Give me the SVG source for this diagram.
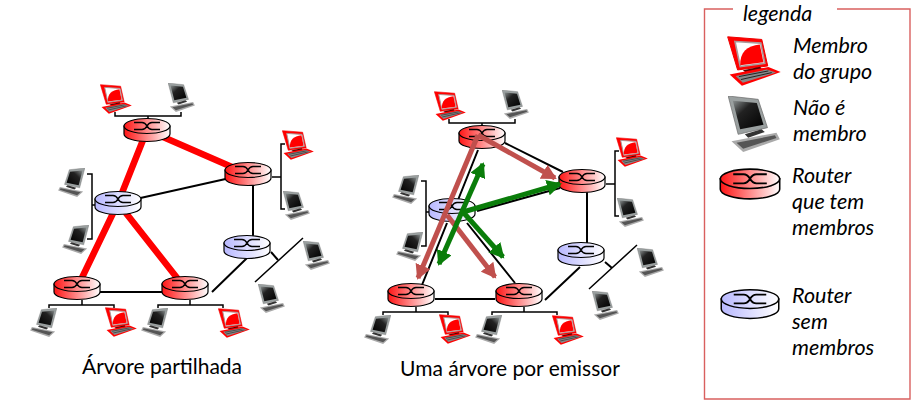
<svg xmlns="http://www.w3.org/2000/svg" width="918" height="405" viewBox="0 0 918 405">
<style>
text{font-family:Lato,"Open Sans","Liberation Sans",sans-serif;fill:#000}
.cap{font-size:21px}
.leg{font-size:21.5px;font-style:italic}
.link{stroke:#000;stroke-width:2;fill:none}
.bus{stroke:#000;stroke-width:1.5;fill:none}
.tree{stroke:#f00;stroke-width:6.5;fill:none}
.pink{stroke:#c0504d;stroke-width:5;fill:none}
.green{stroke:#0a7d0a;stroke-width:5;fill:none}
</style>
<defs>
<linearGradient id="gr"><stop offset="0" stop-color="#ff1515"/><stop offset=".25" stop-color="#ff5050"/><stop offset="1" stop-color="#fff"/></linearGradient>
<linearGradient id="gb"><stop offset="0" stop-color="#b8b8ff"/><stop offset="1" stop-color="#fff"/></linearGradient>
<linearGradient id="gs" x1="0" y1="0" x2="1" y2="1"><stop offset="0" stop-color="#8a9090"/><stop offset=".35" stop-color="#222"/><stop offset="1" stop-color="#000"/></linearGradient>
<marker id="ap" markerUnits="userSpaceOnUse" markerWidth="16" markerHeight="16" refX="13" refY="8" orient="auto-start-reverse"><path d="M0,0 L15,8 L0,16 Z" fill="#c0504d"/></marker>
<marker id="ag" markerUnits="userSpaceOnUse" markerWidth="16" markerHeight="16" refX="13" refY="8" orient="auto-start-reverse"><path d="M0,0 L15,8 L0,16 Z" fill="#0a7d0a"/></marker>
<symbol id="rr" viewBox="-24 -13 48 26" overflow="visible">
<path d="M-23,-4 V4 A23,7.5 0 0 0 23,4 V-4 Z" fill="url(#gr)" stroke="#000" stroke-width="1.2"/>
<ellipse cx="0" cy="-4" rx="23" ry="7.5" fill="url(#gr)" stroke="#000" stroke-width="1.2"/>
<path d="M-13,-7.5 H-5 Q-2,-7.5 0,-4 Q2,-.5 5,-.5 H13 M-13,-.5 H-5 Q-2,-.5 0,-4 Q2,-7.5 5,-7.5 H13" fill="none" stroke="#000" stroke-width="1.5"/>
</symbol>
<symbol id="br" viewBox="-24 -13 48 26" overflow="visible">
<path d="M-23,-4 V4 A23,7.5 0 0 0 23,4 V-4 Z" fill="url(#gb)" stroke="#000" stroke-width="1.2"/>
<ellipse cx="0" cy="-4" rx="23" ry="7.5" fill="url(#gb)" stroke="#000" stroke-width="1.2"/>
<path d="M-13,-7.5 H-5 Q-2,-7.5 0,-4 Q2,-.5 5,-.5 H13 M-13,-.5 H-5 Q-2,-.5 0,-4 Q2,-7.5 5,-7.5 H13" fill="none" stroke="#000" stroke-width="1.5"/>
</symbol>
<symbol id="rc" viewBox="0 0 163 150">
<path d="M2,2 L105,10 L123,90 L32,102 Z" fill="#f00" stroke="#e00" stroke-width="3"/>
<path d="M24,16 L102,21 L114,82 L40,92 Z" fill="#fff" stroke="#a99" stroke-width="5"/>
<path d="M40,88 C38,50 60,28 99,25 L110,79 Z" fill="#f00"/>
<path d="M48,103 L100,92 L106,100 L60,113 Z" fill="#500"/>
<path d="M8,116 L125,93 L162,108 L45,150 Z" fill="#f00"/>
<path d="M26,120 L120,101 L148,110 L48,141 Z" fill="#888"/>
<path d="M36,122 L125,105 M42,131 L135,110" stroke="#222" stroke-width="3" fill="none"/>
</symbol>
<symbol id="gc" viewBox="0 0 155 168">
<path d="M0,0 L90,10 L118,95 L30,115 Z" fill="#9aa0a0" stroke="#666" stroke-width="2"/>
<path d="M14,14 L86,21 L106,86 L36,100 Z" fill="url(#gs)"/>
<path d="M50,115 L100,100 L110,108 L60,125 Z" fill="#333"/>
<path d="M10,136 L145,110 L155,130 L45,168 Z" fill="#aaa"/>
<path d="M25,140 L140,118 L145,126 L45,158 Z" fill="#555"/>
</symbol>
</defs>

<g id="connectors">
<g id="links-left">
<path class="tree" d="M147,130 L248,174 M147,130 L118,203 L77,288 M118,203 L185,288"/>
<path class="link" d="M118,203 L248,174 M253,174 V247 M247,258 L212,292 M77,292 H185 M271,252 L278,260"/>
<path class="bus" d="M115,112 V116 H181 V112 M148,116 V122 M303,238 L255,282 M285,144 H281 V209 H285 M272,177 H281 M87,174 H92 V239 H87 M92,205 H97 M49,308 V305 H114 V308 M82,300 V305 M158,308 V305 H223 V308 M190,300 V305"/>
</g>
<g id="links-right">
<path class="link" d="M478,150 L458,200 M447,223 L422,285 M467,223 L515,283 M505,143 L563,172 M477,211 L560,188 M587,181 V254 M580,267 L545,300 M435,299 H495 M605,262 L612,268"/>
<path class="bus" d="M449,119 V123 H515 V119 M482,123 V129 M637,245 L589,289 M619,151 H615 V216 H619 M606,184 H615 M421,181 H426 V246 H421 M426,212 H431 M383,315 V312 H448 V315 M416,307 V312 M492,315 V312 H557 V315 M524,307 V312"/>
</g>
</g>

<g id="n-top-l"><use href="#rr" x="123" y="117" width="48" height="26"/></g>
<g id="n-right-l"><use href="#rr" x="224" y="161" width="48" height="26"/></g>
<g id="n-mid-l"><use href="#br" x="94" y="190" width="48" height="26"/></g>
<g id="n-low-l"><use href="#br" x="223" y="234" width="48" height="26"/></g>
<g id="n-bl-l"><use href="#rr" x="53" y="275" width="48" height="26"/></g>
<g id="n-bm-l"><use href="#rr" x="161" y="275" width="48" height="26"/></g>

<g id="h1"><use href="#rc" x="100" y="84" width="32" height="30"/></g>
<g id="h2"><use href="#gc" x="168" y="83" width="27" height="29"/></g>
<g id="h3"><use href="#rc" x="282" y="130" width="32" height="30"/></g>
<g id="h4"><use href="#gc" x="283" y="191" width="27" height="29"/></g>
<g id="h5"><use href="#gc" x="303" y="241" width="27" height="29"/></g>
<g id="h6"><use href="#gc" x="258" y="284" width="27" height="29"/></g>
<g id="h7"><use href="#gc" transform="translate(85,168) scale(-1,1)" width="27" height="29"/></g>
<g id="h8"><use href="#gc" transform="translate(89,225) scale(-1,1)" width="27" height="29"/></g>
<g id="h9"><use href="#gc" transform="translate(57,308) scale(-1,1)" width="27" height="29"/></g>
<g id="h10"><use href="#rc" x="105" y="307" width="32" height="30"/></g>
<g id="h11"><use href="#gc" transform="translate(168,308) scale(-1,1)" width="27" height="29"/></g>
<g id="h12"><use href="#rc" x="218" y="308" width="32" height="30"/></g>

<g id="n-top-r"><use href="#rr" x="458" y="124" width="48" height="26"/></g>
<g id="n-right-r"><use href="#rr" x="558" y="168" width="48" height="26"/></g>
<g id="n-mid-r"><use href="#br" x="428" y="197" width="48" height="26"/></g>
<g id="n-low-r"><use href="#br" x="557" y="241" width="48" height="26"/></g>
<g id="n-bl-r"><use href="#rr" x="387" y="282" width="48" height="26"/></g>
<g id="n-bm-r"><use href="#rr" x="495" y="282" width="48" height="26"/></g>

<g id="r1"><use href="#rc" x="434" y="91" width="32" height="30"/></g>
<g id="r2"><use href="#gc" x="502" y="90" width="27" height="29"/></g>
<g id="r3"><use href="#rc" x="616" y="137" width="32" height="30"/></g>
<g id="r4"><use href="#gc" x="617" y="198" width="27" height="29"/></g>
<g id="r5"><use href="#gc" x="637" y="248" width="27" height="29"/></g>
<g id="r6"><use href="#gc" x="592" y="291" width="27" height="29"/></g>
<g id="r7"><use href="#gc" transform="translate(419,175) scale(-1,1)" width="27" height="29"/></g>
<g id="r8"><use href="#gc" transform="translate(423,232) scale(-1,1)" width="27" height="29"/></g>
<g id="r9"><use href="#gc" transform="translate(391,315) scale(-1,1)" width="27" height="29"/></g>
<g id="r10"><use href="#rc" x="439" y="314" width="32" height="30"/></g>
<g id="r11"><use href="#gc" transform="translate(502,315) scale(-1,1)" width="27" height="29"/></g>
<g id="r12"><use href="#rc" x="552" y="315" width="32" height="30"/></g>

<g id="arrows">
<path class="pink" marker-end="url(#ap)" d="M478,135 L418,278"/>
<path class="pink" marker-end="url(#ap)" d="M478,135 L555,178"/>
<path class="pink" marker-end="url(#ap)" d="M447,215 L495,277"/>
<path class="green" marker-start="url(#ag)" marker-end="url(#ag)" d="M483,164 L439,264"/>
<path class="green" marker-end="url(#ag)" d="M463,212 L560,184"/>
<path class="green" marker-end="url(#ag)" d="M463,212 L503,257"/>
</g>

<text class="cap" x="82" y="374">Árvore partilhada</text>
<text class="cap" x="400" y="376">Uma árvore por emissor</text>

<g id="legend">
<path d="M733,9 H704.5 V399 H910 V9 H837" fill="none" stroke="#d9605f" stroke-width="1.4"/>
<text class="leg" x="743" y="21">legenda</text>
<g id="leg-member"><use href="#rc" x="727" y="36" width="54" height="50"/><text class="leg" x="793" y="53">Membro</text><text class="leg" x="793" y="79">do grupo</text></g>
<g id="leg-non"><use href="#gc" x="728" y="96" width="52" height="56"/><text class="leg" x="793" y="115">Não é</text><text class="leg" x="793" y="141">membro</text></g>
<g id="leg-rr"><use href="#rr" x="719" y="167" width="62" height="34"/><text class="leg" x="792" y="183">Router</text><text class="leg" x="792" y="209">que tem</text><text class="leg" x="792" y="235">membros</text></g>
<g id="leg-br"><use href="#br" x="720" y="287" width="60" height="34"/><text class="leg" x="792" y="303">Router</text><text class="leg" x="792" y="329">sem</text><text class="leg" x="792" y="355">membros</text></g>
</g>
</svg>
